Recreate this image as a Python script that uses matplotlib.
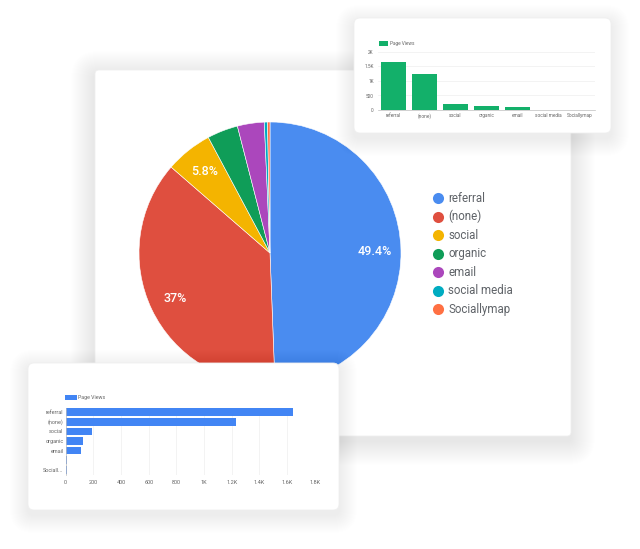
import matplotlib
matplotlib.use("Agg")
import matplotlib.pyplot as plt
from matplotlib.patches import FancyBboxPatch
from matplotlib.ticker import FuncFormatter

plt.rcParams['font.family'] = ['Roboto', 'DejaVu Sans']

# ---- data ----
categories = ["referral", "(none)", "social", "organic", "email", "social media", "Sociallymap"]
page_views = [1640, 1228, 193, 126, 110, 13, 10]
pie_colors = ["#4a8cf0", "#df4f3f", "#f4b400", "#0f9d58", "#ab47bc", "#00acc1", "#ff7043"]
hbar_labels = ["referral", "(none)", "social", "organic", "email", "", "Sociall..."]
vbar_yticks = [0, 500, 1000, 1500, 2000]
hbar_xticks = [0, 200, 400, 600, 800, 1000, 1200, 1400, 1600, 1800]

W, H = 640, 549
fig = plt.figure(figsize=(W / 100, H / 100), dpi=100)
fig.patch.set_facecolor("white")


def px_axes(left, top, right, bottom, z):
    ax = fig.add_axes([left / W, 1 - bottom / H, (right - left) / W, (bottom - top) / H])
    ax.set_zorder(z)
    return ax


def layer(z):
    ax = fig.add_axes([0, 0, 1, 1])
    ax.set_xlim(0, W)
    ax.set_ylim(H, 0)
    ax.axis("off")
    ax.patch.set_alpha(0)
    ax.set_zorder(z)
    return ax


def card(ax, x0, y0, x1, y1, r=5, spread=22, dy=5):
    for i in range(spread, 0, -1):
        p = FancyBboxPatch((x0 - i, y0 - i + dy), (x1 - x0) + 2 * i, (y1 - y0) + 2 * i,
                           boxstyle=f"round,pad=0,rounding_size={r + i}",
                           facecolor="black", edgecolor="none", alpha=0.0045)
        ax.add_patch(p)
    ax.add_patch(FancyBboxPatch((x0, y0), x1 - x0, y1 - y0,
                                boxstyle=f"round,pad=0,rounding_size={r}",
                                facecolor="white", edgecolor="#efefef", linewidth=0.6))


def kfmt(v, _):
    if v >= 1000:
        return f"{v / 1000:g}K"
    return f"{v:g}"


# ---- main card with pie ----
l0 = layer(0)
card(l0, 95, 70, 571, 436, r=4, spread=24)

axp = px_axes(139, 122, 401, 384, 1)


def pct_fmt(p):
    return f"{round(p, 1):g}%" if p >= 5 else ""


wedges, _, autot = axp.pie(page_views, colors=pie_colors, startangle=90, counterclock=False,
                           autopct=pct_fmt, pctdistance=0.8,
                           wedgeprops=dict(edgecolor="white", linewidth=0.4),
                           textprops=dict(color="white", fontsize=9, fontweight="medium"))
axp.set_xlim(-1, 1)
axp.set_ylim(-1, 1)
axp.set_aspect("equal")
axp.axis("off")

# legend
for i, (c, col) in enumerate(zip(categories, pie_colors)):
    y = 198.3 + i * 18.5
    l0.plot([438.3], [y], "o", markersize=8, color=col, markeredgewidth=0)
    l0.text(448.5, y, c, fontsize=8.3, color="#5f6368", va="center", ha="left")

# ---- top-right card with vertical bars ----
l1 = layer(2)
card(l1, 354, 18, 611, 133, r=6, spread=18)
l1.add_patch(plt.Rectangle((379, 40.5), 9, 5, facecolor="#13b06a", edgecolor="none"))
l1.text(390, 43, "Page Views", fontsize=3.4, color="#666666", va="center")

axv = px_axes(378, 52, 595, 110, 3)
axv.bar(range(len(categories)), page_views, width=0.79, color="#13b06a", zorder=2)
axv.set_xlim(-0.5, len(categories) - 0.5)
axv.set_ylim(0, 2000)
axv.set_yticks(vbar_yticks)
axv.yaxis.set_major_formatter(FuncFormatter(kfmt))
axv.set_xticks(range(len(categories)))
axv.set_xticklabels(categories)
axv.tick_params(axis="both", length=0, labelsize=3.4, colors="#666666")
axv.tick_params(axis="y", pad=3)
axv.tick_params(axis="x", pad=2.5)
axv.grid(axis="y", color="#eeeeee", linewidth=0.5, zorder=0)
for s in ["top", "right", "left"]:
    axv.spines[s].set_visible(False)
axv.spines["bottom"].set_color("#bdbdbd")
axv.spines["bottom"].set_linewidth(0.5)
axv.patch.set_alpha(0)

# ---- bottom-left card with horizontal bars ----
l2 = layer(4)
card(l2, 28, 363, 339, 510, r=6, spread=18)
l2.add_patch(plt.Rectangle((65, 394.5), 11.5, 5, facecolor="#4285f4", edgecolor="none"))
l2.text(78.5, 397, "Page Views", fontsize=3.8, color="#666666", va="center")

axh = px_axes(65.7, 407.5, 314.7, 474.5, 5)
axh.barh(range(len(categories)), page_views, height=0.8, color="#4285f4", zorder=2)
axh.set_ylim(len(categories) - 0.5, -0.5)
axh.set_xlim(0, 1800)
axh.set_xticks(hbar_xticks)
axh.xaxis.set_major_formatter(FuncFormatter(kfmt))
axh.set_yticks(range(len(categories)))
axh.set_yticklabels(hbar_labels)
axh.tick_params(axis="both", length=0, labelsize=4.0, colors="#666666")
axh.tick_params(axis="y", pad=1.5)
axh.tick_params(axis="x", pad=4)
axh.grid(axis="x", color="#eeeeee", linewidth=0.5, zorder=0)
for s in ["top", "right", "bottom"]:
    axh.spines[s].set_visible(False)
axh.spines["left"].set_color("#bdbdbd")
axh.spines["left"].set_linewidth(0.5)
axh.patch.set_alpha(0)

fig.savefig("out.png", dpi=100, facecolor="white")
